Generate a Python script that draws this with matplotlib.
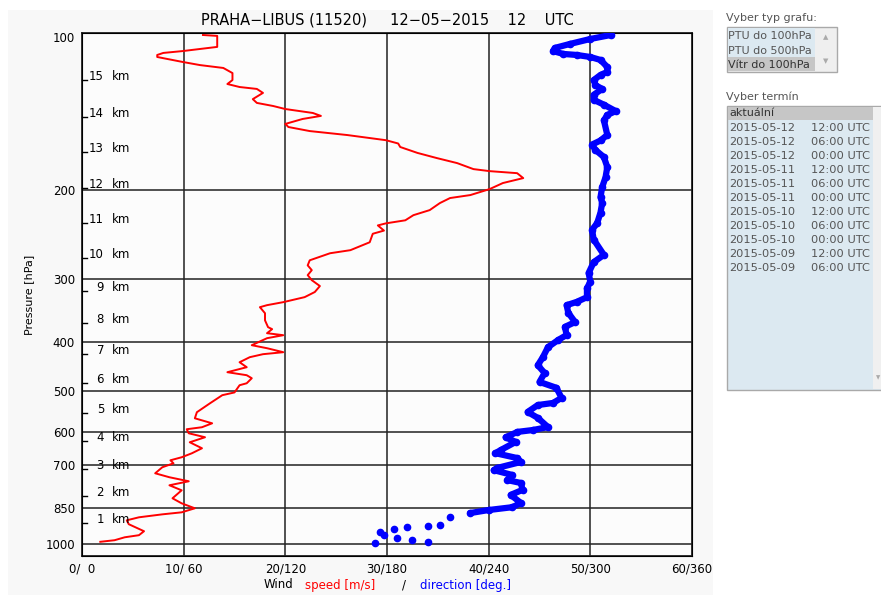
import numpy as np
import matplotlib
matplotlib.use("Agg")
import matplotlib.pyplot as plt
from matplotlib.patches import Rectangle
from matplotlib.transforms import blended_transform_factory

# wind speed profile [m/s] vs pressure [hPa]
speed_p = [99.1, 99.5, 104.6, 106.6, 107.5, 108.5, 109.5, 110.5, 112.0, 113.6,
           115.1, 117.8, 121.6, 123.8, 125.5, 126.6, 128.9, 132.6, 134.9, 136.8,
           138.7, 141.2, 143.1, 145.1, 148.4, 150.5, 153.3, 156.1, 159.8, 162.2,
           164.8, 169.3, 173.3, 177.3, 182.2, 183.9, 185.6, 189.8, 194.1, 199.5,
           205.0, 207.8, 212.6, 219.5, 224.6, 229.9, 233.1, 235.3, 240.9, 244.4,
           254.0, 263.3, 267.0, 275.7, 282.1, 288.3, 294.9, 301.7, 309.9, 318.4,
           325.9, 333.4, 338.0, 341.1, 350.6, 362.1, 373.5, 376.9, 383.9, 387.4,
           392.7, 405.4, 411.0, 418.5, 422.3, 428.1, 438.0, 448.0, 458.3, 464.6,
           471.0, 481.9, 486.2, 502.4, 508.7, 527.6, 549.6, 565.0, 578.0, 588.4,
           593.8, 604.8, 615.8, 630.0, 647.4, 662.4, 674.4, 683.7, 693.2, 705.7,
           725.3, 738.5, 752.1, 765.9, 783.6, 812.5, 831.3, 850.3, 866.0, 874.0,
           885.8, 898.0, 914.0, 943.6, 960.8, 970.0, 983.0, 990.0]
speed = [11.9, 13.3, 13.3, 9.9, 8.0, 7.4, 7.4, 8.4, 9.9, 11.6,
         13.9, 14.8, 14.8, 14.3, 15.5, 17.2, 17.8, 16.8, 17.2, 18.8,
         20.0, 22.7, 23.5, 21.7, 20.0, 20.3, 22.4, 26.1, 29.9, 31.1,
         31.3, 33.0, 34.9, 36.9, 38.5, 40.1, 42.8, 43.4, 41.4, 40.1,
         38.2, 36.2, 35.2, 34.2, 32.6, 31.8, 29.9, 29.1, 29.7, 28.6,
         28.3, 26.4, 24.4, 22.4, 22.2, 22.6, 22.2, 22.6, 23.4, 22.9,
         21.9, 19.8, 18.2, 17.5, 18.0, 18.0, 18.3, 18.7, 18.2, 19.8,
         18.2, 16.7, 18.2, 19.8, 17.8, 16.5, 15.5, 16.2, 14.3, 16.2,
         16.7, 16.2, 15.5, 15.0, 13.8, 12.6, 11.3, 11.1, 12.8, 11.8,
         10.3, 10.5, 12.1, 10.6, 11.8, 10.8, 9.8, 8.7, 9.0, 7.9,
         7.2, 8.6, 10.5, 8.6, 9.8, 8.9, 9.8, 11.1, 9.8, 7.9,
         5.6, 4.4, 4.6, 6.1, 5.6, 4.2, 3.2, 1.8]

# wind direction profile [deg] vs pressure [hPa]
dir_p = [994, 990, 981, 972, 960, 947, 934, 926, 922, 918,
         886, 869, 857, 846, 830, 800, 782, 758, 748, 731,
         715, 708, 689, 677, 662, 653, 629, 616, 601, 596,
         588, 564, 549, 532, 527, 515, 492, 479, 460, 444,
         428, 409, 396, 387, 373, 365, 350, 338, 333, 326,
         313, 304, 292, 278, 269, 251, 240, 233, 222, 212.5,
         207, 197.7, 189, 180.5, 172.5, 167, 163, 160, 156, 146,
         142.5, 140, 136, 133, 130, 126.6, 124.4, 121.6, 118.8, 117.2,
         114.6, 111, 109.5, 108.5, 108, 106.6, 105.1, 103.2, 100.9, 99.1]
direction = [173, 204, 195, 186, 178, 176, 184, 192, 204, 211,
             217, 229, 240, 254, 259, 253, 260, 259, 251, 254,
             243, 245, 259, 257, 244, 247, 256, 250, 257, 266,
             275, 269, 263, 269, 278, 283, 280, 270, 273, 269,
             272, 275, 281, 286, 285, 291, 287, 286, 292, 298,
             298, 300, 299, 302, 308, 302, 301, 304, 306, 307,
             306, 307, 309, 310, 308, 303, 301, 306, 310, 308,
             310, 315, 308, 302, 302, 307, 303, 302, 306, 310,
             310, 306, 300, 292, 284, 278, 279, 288, 300, 312]

# height marks [km] and their pressure [hPa]
km_heights = [15, 14, 13, 12, 11, 10, 9, 8, 7, 6, 5, 4, 3, 2, 1]
km_p = [121.6, 143.8, 168.6, 198.6, 232.8, 272.9, 317, 366, 422, 481,
        552, 627, 711, 804, 909]

p_ticks = [100, 200, 300, 400, 500, 600, 700, 850, 1000]
speed_ticks = [0, 10, 20, 30, 40, 50, 60]
x_labels = ["0/  0", "10/ 60", "20/120", "30/180", "40/240", "50/300", "60/360"]

graph_types = ["PTU do 100hPa", "PTU do 500hPa", "Vítr do 100hPa"]
term_dates = ["2015-05-12", "2015-05-12", "2015-05-12", "2015-05-11", "2015-05-11",
              "2015-05-11", "2015-05-10", "2015-05-10", "2015-05-10", "2015-05-09",
              "2015-05-09"]
term_times = ["12:00 UTC", "06:00 UTC", "00:00 UTC", "12:00 UTC", "06:00 UTC",
              "00:00 UTC", "12:00 UTC", "06:00 UTC", "00:00 UTC", "12:00 UTC",
              "06:00 UTC"]

W, H = 881, 595
fig = plt.figure(figsize=(W / 100, H / 100), dpi=100)
fig.patch.set_facecolor("white")


def fx(x):
    return x / W


def fy(y):
    return 1 - y / H


def frect(x0, y0, x1, y1, **kw):
    r = Rectangle((fx(x0), fy(y1)), fx(x1) - fx(x0), fy(y0) - fy(y1),
                  transform=fig.transFigure, **kw)
    fig.add_artist(r)
    return r


# chart image background
frect(8, 10, 713, 595, facecolor="#f8f8f8", edgecolor="none", zorder=-5)

ax = fig.add_axes([fx(82), fy(556), fx(692) - fx(82), fy(33) - fy(556)])
ax.set_facecolor("#fcfcfc")
ax.set_yscale("log")
ax.set_ylim(1056, 98.2)
ax.set_xlim(0, 60)

for p in p_ticks[1:]:
    ax.axhline(p, color="#222222", lw=1.1, zorder=1)
for s in speed_ticks[1:-1]:
    ax.axvline(s, color="#222222", lw=1.1, zorder=1)

ax.set_yticks(p_ticks, labels=[str(p) for p in p_ticks])
ax.minorticks_off()
ax.set_xticks(speed_ticks, labels=x_labels)
ax.tick_params(length=0, labelsize=8.5, colors="black")
ax.tick_params(axis="x", pad=5)
ax.tick_params(axis="y", pad=5)
for sp in ax.spines.values():
    sp.set_linewidth(1.3)
    sp.set_color("#222222")

ax.plot(speed, speed_p, color="#ff0000", lw=1.4, zorder=3)

ax2 = ax.twiny()
ax2.set_xlim(0, 360)
ax2.set_xticks([])
dir_p_arr = np.array(dir_p)
dir_arr = np.array(direction)
upper = dir_p_arr <= 870
ax2.plot(dir_arr[upper], dir_p_arr[upper], color="#0000ff", lw=4.5,
         solid_capstyle="round", zorder=3)
ax2.plot(dir_arr, dir_p_arr, color="#0000ff", lw=0, marker="o", ms=4.5,
         zorder=3)

# height marks
tr = blended_transform_factory(ax.transAxes, ax.transData)
for h, p in zip(km_heights, km_p):
    ax.plot([0, 0.009], [p, p], color="black", lw=1, transform=tr, zorder=4,
            clip_on=False)
    ax.text(22 / 610, p, str(h), transform=tr, ha="right", va="baseline",
            fontsize=8.5, zorder=4)
    ax.text(30 / 610, p, "km", transform=tr, ha="left", va="baseline",
            fontsize=8.5, zorder=4)

ax.set_ylabel("Pressure [hPa]", fontsize=8, labelpad=8)

fig.text(fx(387), fy(20), "PRAHA\u2212LIBUS (11520)     12\u221205\u22122015    12    UTC",
         ha="center", va="center", fontsize=10.5)

fig.text(fx(264), fy(585), "Wind", ha="left", va="center", fontsize=8.5)
fig.text(fx(305), fy(585), "speed [m/s]", ha="left", va="center", fontsize=8.5,
         color="#ff0000")
fig.text(fx(402), fy(585), "/", ha="left", va="center", fontsize=8.5)
fig.text(fx(420), fy(585), "direction [deg.]", ha="left", va="center",
         fontsize=8.5, color="#0000ff")

# cut the last tick label like the image border does
frect(713, 556, 881, 595, facecolor="white", edgecolor="none", zorder=5)

# right panel: graph type list
ui_text = "#555555"
fig.text(fx(726), fy(18), "Vyber typ grafu:", ha="left", va="center",
         fontsize=8, color=ui_text)
frect(727, 27, 837, 72, facecolor="#efefef", edgecolor="#a9a9a9", lw=1)
frect(728, 28, 815, 57, facecolor="#dce9f1", edgecolor="none")
frect(728, 57, 815, 71, facecolor="#c6c6c6", edgecolor="none")
for i, t in enumerate(graph_types):
    fig.text(fx(728), fy(36 + 14.5 * i), t, ha="left", va="center",
             fontsize=8, color="#333333" if i == 2 else ui_text)
fig.text(fx(826), fy(37), "\u25b2", ha="center", va="center", fontsize=5,
         color="#aaaaaa")
fig.text(fx(826), fy(61), "\u25bc", ha="center", va="center", fontsize=5,
         color="#aaaaaa")

# right panel: term list
fig.text(fx(726), fy(97), "Vyber termín", ha="left", va="center",
         fontsize=8, color=ui_text)
frect(727, 106, 895, 390, facecolor="#dce9f1", edgecolor="#a9a9a9", lw=1,
      clip_on=False)
frect(873, 107, 881, 389, facecolor="#f0f0f0", edgecolor="none")
frect(728, 107, 873, 120, facecolor="#c6c6c6", edgecolor="none")
fig.text(fx(729), fy(113), "aktuální", ha="left", va="center", fontsize=8,
         color="#333333")
for i, (d, t) in enumerate(zip(term_dates, term_times)):
    yy = 128 + 14 * i
    fig.text(fx(729), fy(yy), d, ha="left", va="center", fontsize=8.2, color=ui_text)
    fig.text(fx(811), fy(yy), t, ha="left", va="center", fontsize=8.2, color=ui_text)
fig.text(fx(878), fy(378), "\u25bc", ha="center", va="center", fontsize=4,
         color="#aaaaaa")

fig.savefig("out.png", dpi=100)
